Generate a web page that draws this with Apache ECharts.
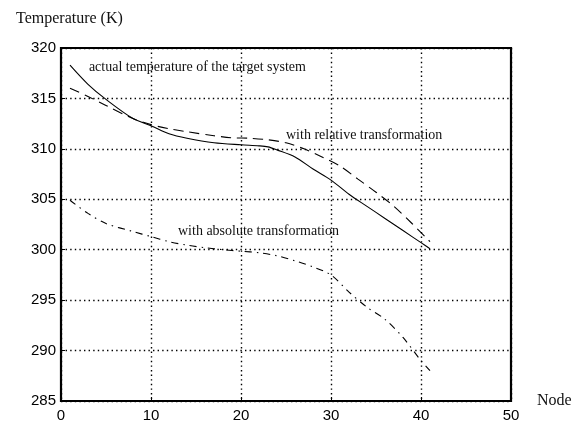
<!DOCTYPE html>
<html>
<head>
<meta charset="utf-8">
<style>
  html, body { margin: 0; padding: 0; background: #fff; }
  #chart { width: 576px; height: 423px; }
</style>
<script src="https://cdn.jsdelivr.net/npm/echarts@6/dist/echarts.min.js"></script>
</head>
<body>
<div id="chart"></div>
<script>
const actualNodes = [1, 3, 5, 8, 10, 12, 14, 17, 20, 22, 23, 24, 26, 28, 30, 32, 34, 36, 38, 40, 41];
const actualTemp = [318.3, 316.4, 314.9, 313.0, 312.3, 311.5, 311.05, 310.6, 310.4, 310.3, 310.2, 309.9, 309.2, 308.0, 306.9, 305.5, 304.3, 303.1, 301.9, 300.7, 300.1];

const relativeNodes = [1, 3, 5, 8, 10, 12, 14, 17, 19, 21, 23, 25, 27, 29, 31, 33, 35, 37, 39, 41];
const relativeTemp = [316.0, 315.2, 314.3, 313.0, 312.4, 312.0, 311.7, 311.3, 311.1, 311.05, 310.9, 310.6, 310.0, 309.2, 308.3, 307.0, 305.7, 304.3, 302.6, 300.8];

const absoluteNodes = [1, 3, 5, 8, 10, 12, 14, 16, 18, 20, 22, 24, 26, 28, 30, 32, 34, 36, 38, 40, 41];
const absoluteTemp = [304.9, 303.6, 302.6, 301.8, 301.3, 300.8, 300.45, 300.2, 300.0, 299.85, 299.7, 299.4, 298.9, 298.3, 297.5, 295.8, 294.3, 293.1, 291.3, 289.0, 288.0];

// annotations in data coordinates (left edge, vertical middle)
const notes = [
  { text: 'actual temperature of the target system', x: 3.1, y: 318.05 },
  { text: 'with relative transformation', x: 25.0, y: 311.3 },
  { text: 'with absolute transformation', x: 13.0, y: 301.85 }
];

const serif = '"Liberation Serif", "DejaVu Serif", serif';
const sans = '"Liberation Sans", Arial, sans-serif';

function pairs(xs, ys) {
  return xs.map((x, i) => [x, ys[i]]);
}

const gridLine = {
  show: true,
  lineStyle: { color: '#000', width: 1.4, type: [1.4, 3.2] }
};

const chart = echarts.init(document.getElementById('chart'));

chart.setOption({
  animation: false,
  backgroundColor: '#fff',
  title: {
    text: 'Temperature (K)',
    left: 11,
    top: 6,
    textStyle: { fontFamily: serif, fontSize: 16, fontWeight: 'normal', color: '#111' }
  },
  grid: {
    left: 61,
    right: 65,
    top: 48,
    bottom: 21,
    show: true,
    borderColor: '#000',
    borderWidth: 2.2,
    backgroundColor: 'transparent'
  },
  xAxis: {
    type: 'value',
    min: 0,
    max: 50,
    interval: 10,
    name: 'Node',
    nameLocation: 'end',
    nameGap: 26,
    nameTextStyle: { fontFamily: serif, fontSize: 16, color: '#111', verticalAlign: 'middle' },
    axisLine: { show: false },
    axisTick: { show: true, inside: true, length: 4, lineStyle: { color: '#000', width: 1 } },
    axisLabel: { fontFamily: sans, fontSize: 15, color: '#000', margin: 7 },
    splitLine: gridLine
  },
  yAxis: {
    type: 'value',
    min: 285,
    max: 320,
    interval: 5,
    axisLine: { show: false },
    axisTick: { show: true, inside: true, length: 4, lineStyle: { color: '#000', width: 1 } },
    axisLabel: { fontFamily: sans, fontSize: 15, color: '#000', margin: 5 },
    splitLine: gridLine
  },
  series: [
    {
      name: 'actual',
      type: 'line',
      data: pairs(actualNodes, actualTemp),
      smooth: 0.3,
      showSymbol: false,
      lineStyle: { color: '#000', width: 1.1, type: 'solid' }
    },
    {
      name: 'relative',
      type: 'line',
      data: pairs(relativeNodes, relativeTemp),
      smooth: 0.3,
      showSymbol: false,
      lineStyle: { color: '#000', width: 1.1, type: [10, 6] }
    },
    {
      name: 'absolute',
      type: 'line',
      data: pairs(absoluteNodes, absoluteTemp),
      smooth: 0.3,
      showSymbol: false,
      lineStyle: { color: '#000', width: 1.1, type: [7, 5, 1.5, 5] }
    }
  ]
});

// place the annotations through the chart's own scales
chart.setOption({
  graphic: notes.map((n) => {
    const p = chart.convertToPixel({ gridIndex: 0 }, [n.x, n.y]);
    return {
      type: 'text',
      x: p[0],
      y: p[1],
      z: 100,
      style: {
        text: n.text,
        fontFamily: serif,
        fontSize: 14,
        fill: '#111',
        verticalAlign: 'middle',
        align: 'left'
      }
    };
  })
});
</script>
</body>
</html>
